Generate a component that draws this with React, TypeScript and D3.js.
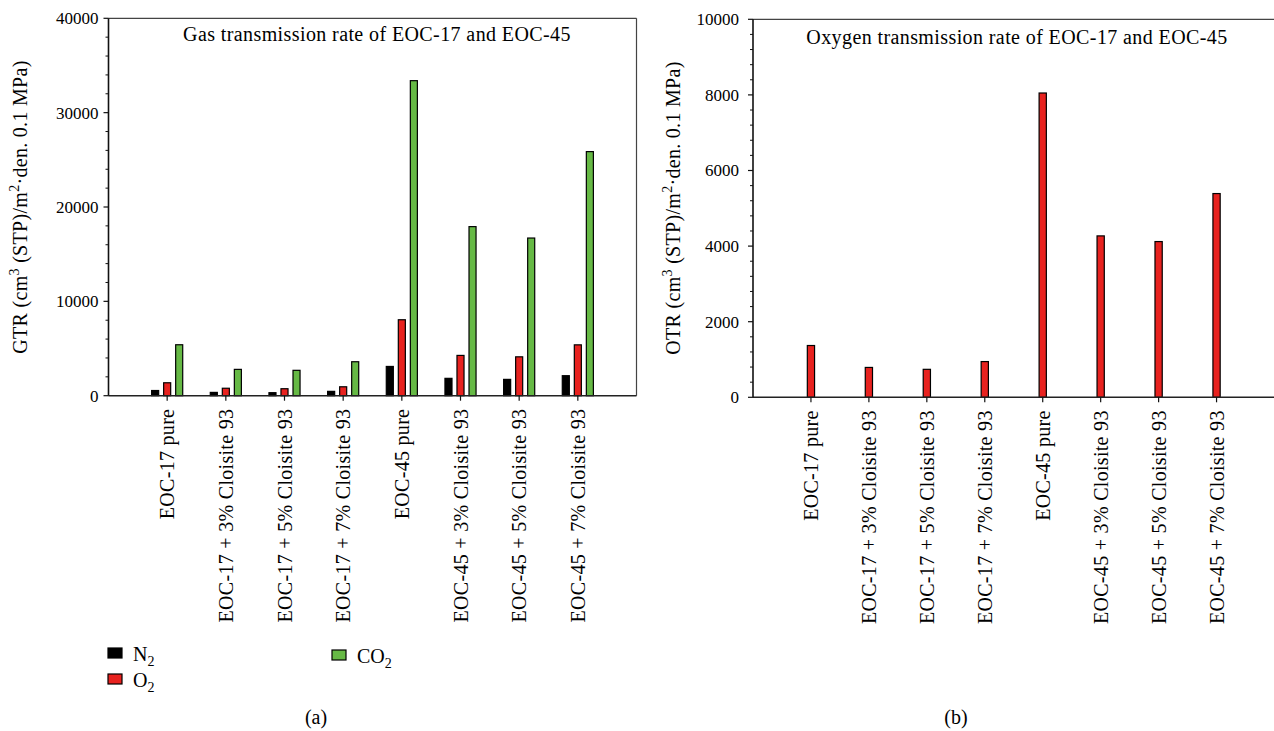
import React from "react";
import * as d3 from "d3";

const categories = [
  "EOC-17 pure",
  "EOC-17 + 3% Cloisite 93",
  "EOC-17 + 5% Cloisite 93",
  "EOC-17 + 7% Cloisite 93",
  "EOC-45 pure",
  "EOC-45 + 3% Cloisite 93",
  "EOC-45 + 5% Cloisite 93",
  "EOC-45 + 7% Cloisite 93",
];
const n2Values = [550, 350, 320, 460, 3100, 1840, 1730, 2120];
const o2Values = [1370, 790, 740, 945, 8050, 4270, 4120, 5390];
const co2Values = [5400, 2790, 2690, 3600, 33390, 17920, 16710, 25870];
const gtrTicks = [0, 10000, 20000, 30000, 40000];
const otrTicks = [0, 2000, 4000, 6000, 8000, 10000];

const FONT = "'Liberation Serif', 'DejaVu Serif', serif";
const FS = 20;
const BLACK = "#000000";
const RED = "#e8221f";
const GREEN = "#66b945";

type Series = { name: string; sub: string; pre: string; values: number[]; color: string; offset: number };

function YLabel({ x, y, prefix }: { x: number; y: number; prefix: string }) {
  return (
    <text transform={`translate(${x},${y}) rotate(-90)`} textAnchor="middle" fontSize={FS} fontFamily={FONT} letterSpacing={0.3}>
      {prefix} (cm
      <tspan dy={-8} fontSize={14}>3</tspan>
      <tspan dy={8}> (STP)/m</tspan>
      <tspan dy={-8} fontSize={14}>2</tspan>
      <tspan dy={8}>·den. 0.1 MPa)</tspan>
    </text>
  );
}

function Panel({
  x0, x1, yTop, yBottom, yMax, yTicks, minorStep, series, barW, title, titleX, titleY, labelGap, showRight,
}: {
  x0: number; x1: number; yTop: number; yBottom: number; yMax: number; yTicks: number[]; minorStep: number;
  series: Series[]; barW: number; title: string; titleX: number; titleY: number; labelGap: number; showRight: boolean;
}) {
  const x = d3.scaleLinear().domain([0, 9]).range([x0, x1]);
  const y = d3.scaleLinear().domain([0, yMax]).range([yBottom, yTop]);
  const minors = d3.range(0, yMax + 1, minorStep).filter((v) => !yTicks.includes(v));
  return (
    <g>
      {series.map((s) =>
        s.values.map((v, i) => {
          const cx = x(i + 1 + s.offset);
          const w = x(barW) - x(0);
          return (
            <rect
              key={s.name + i}
              x={cx - w / 2}
              y={y(v)}
              width={w}
              height={y(0) - y(v)}
              fill={s.color}
              stroke="#000"
              strokeWidth={1.2}
            />
          );
        })
      )}
      <line x1={x0} x2={x1} y1={yTop} y2={yTop} stroke="#444" strokeWidth={1.2} />
      {showRight && <line x1={x1} x2={x1} y1={yTop} y2={yBottom} stroke="#444" strokeWidth={1.2} />}
      <line x1={x0} x2={x1} y1={yBottom} y2={yBottom} stroke="#222" strokeWidth={1.6} />
      <line x1={x0} x2={x0} y1={yTop} y2={yBottom} stroke="#111" strokeWidth={1.6} />
      {yTicks.map((t) => (
        <g key={"yt" + t}>
          <line x1={x0 - 5} x2={x0} y1={y(t)} y2={y(t)} stroke="#111" strokeWidth={1.2} />
          <text x={x0 - labelGap} y={y(t)} dy="0.35em" textAnchor="end" fontSize={17} fontFamily={FONT}>
            {t}
          </text>
        </g>
      ))}
      {minors.map((t) => (
        <line key={"ym" + t} x1={x0 - 3} x2={x0} y1={y(t)} y2={y(t)} stroke="#111" strokeWidth={1} />
      ))}
      {categories.map((c, i) => (
        <g key={"xc" + i}>
          <line x1={x(i + 1)} x2={x(i + 1)} y1={yBottom} y2={yBottom + 5} stroke="#111" strokeWidth={1.2} />
          <text
            transform={`translate(${x(i + 1)},${yBottom + 13}) rotate(-90)`}
            dy="0.35em"
            textAnchor="end"
            fontSize={FS}
            fontFamily={FONT}
            letterSpacing={0.3}
          >
            {c}
          </text>
        </g>
      ))}
      <text x={titleX} y={titleY} textAnchor="middle" fontSize={FS} fontFamily={FONT} letterSpacing={0.4}>
        {title}
      </text>
    </g>
  );
}

export default function App() {
  const leftSeries: Series[] = [
    { name: "N2", pre: "N", sub: "2", values: n2Values, color: BLACK, offset: -0.205 },
    { name: "O2", pre: "O", sub: "2", values: o2Values, color: RED, offset: 0 },
    { name: "CO2", pre: "CO", sub: "2", values: co2Values, color: GREEN, offset: 0.205 },
  ];
  const rightSeries: Series[] = [{ name: "O2", pre: "O", sub: "2", values: o2Values, color: RED, offset: 0 }];
  const legend = [
    { s: leftSeries[0], x: 108, y: 648 },
    { s: leftSeries[1], x: 108, y: 674 },
    { s: leftSeries[2], x: 332, y: 650 },
  ];
  return (
    <svg width={1274} height={731} style={{ position: "absolute", left: 0, top: 0, background: "#fff" }}>
      <Panel
        x0={108.5} x1={636.5} yTop={18.3} yBottom={395.7} yMax={40000} yTicks={gtrTicks} minorStep={2000}
        series={leftSeries} barW={0.12} title="Gas transmission rate of EOC-17 and EOC-45" titleX={377} titleY={41}
        labelGap={10} showRight={true}
      />
      <Panel
        x0={753} x1={1274.5} yTop={19.3} yBottom={397.3} yMax={10000} yTicks={otrTicks} minorStep={400}
        series={rightSeries} barW={0.125} title="Oxygen transmission rate of EOC-17 and EOC-45" titleX={1017} titleY={44}
        labelGap={14} showRight={false}
      />
      <YLabel x={27} y={207} prefix="GTR" />
      <YLabel x={680} y={208} prefix="OTR" />
      {legend.map((l) => (
        <g key={l.s.name}>
          <rect x={l.x} y={l.y} width={14} height={10} fill={l.s.color} stroke="#000" strokeWidth={1.2} />
          <text x={l.x + 25} y={l.y + 13} fontSize={FS} fontFamily={FONT}>
            {l.s.pre}
            <tspan dy={5} fontSize={14}>{l.s.sub}</tspan>
          </text>
        </g>
      ))}
      <text x={316} y={724} textAnchor="middle" fontSize={FS} fontFamily={FONT}>(a)</text>
      <text x={956} y={724} textAnchor="middle" fontSize={FS} fontFamily={FONT}>(b)</text>
    </svg>
  );
}
